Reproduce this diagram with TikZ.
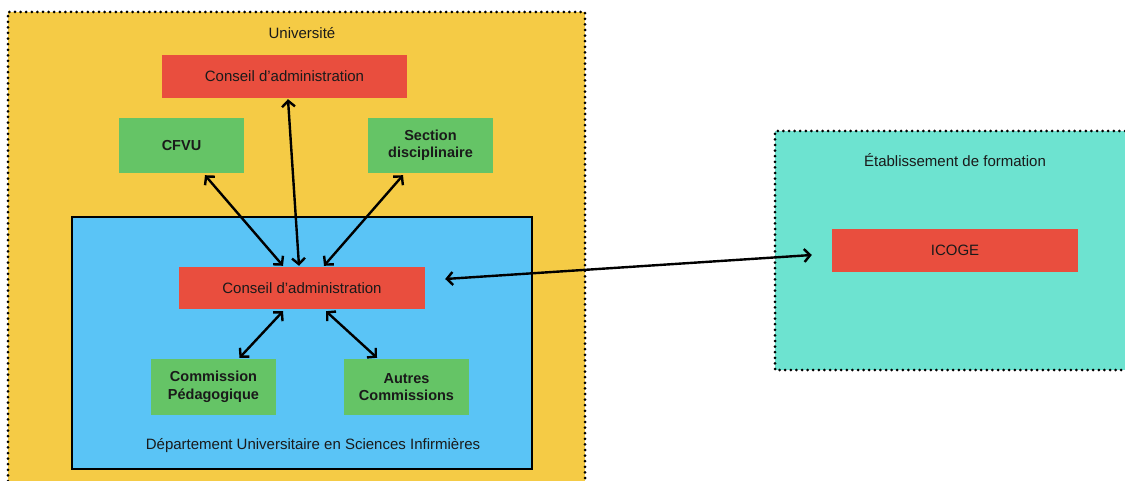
\documentclass[tikz,border=0pt]{standalone}
\usepackage{fontspec}
\setmainfont{Liberation Sans}
\usetikzlibrary{arrows.meta}
\definecolor{univyellow}{HTML}{F5CB45}
\definecolor{deptblue}{HTML}{5AC4F6}
\definecolor{boardred}{HTML}{E94E3E}
\definecolor{commgreen}{HTML}{65C466}
\definecolor{schoolteal}{HTML}{6DE3D0}
\definecolor{ink}{HTML}{1A1A1A}
\tikzset{
  txt/.style={font=\fontsize{15}{17}\selectfont, text=ink, inner sep=0pt},
  redbox/.style={txt, fill=boardred, minimum height=43pt, minimum width=246pt},
  greenbox/.style={txt, fill=commgreen, minimum width=125pt, minimum height=55pt,
    align=center, font=\fontsize{14.5}{17.5}\selectfont\bfseries},
  dotborder/.style={line width=3pt, line cap=round, dash pattern=on 0pt off 5.6pt},
  link/.style={line width=2.4pt, black,
    {Straight Barb[length=6pt,width=13pt]}-{Straight Barb[length=6pt,width=13pt]}},
}
\begin{document}
\begin{tikzpicture}[x=1pt,y=-1pt]
\useasboundingbox (0,0) rectangle (1125,481);
\fill[white] (0,0) rectangle (1125,481);

% University frame
\fill[univyellow] (8,12) rectangle (585,481);
\draw[dotborder] (8,481) -- (8,12) -- (585,12) -- (585,481);
\node[txt] (univ) at (302,33) {Université};

% Training institution frame
\fill[schoolteal] (775,131) rectangle (1125,370);
\draw[dotborder] (1125,131) -- (775,131) -- (775,370) -- (1125,370);
\node[txt] (etab) at (955,160) {Établissement de formation};

% University bodies
\node[redbox, minimum width=245pt] (ca1) at (284.5,76.5) {Conseil d’administration};
\node[greenbox] (cfvu) at (181.5,145.5) {CFVU};
\node[greenbox] (sd) at (430.5,145.5) {Section\\disciplinaire};

% Department frame
\node[draw=black, line width=1.4pt, fill=deptblue, minimum width=460pt,
  minimum height=252pt, inner sep=0pt] (dept) at (302,343) {};
\node[txt] (deptlbl) at (313,446) {Département Universitaire en Sciences Infirmières};

% Department bodies
\node[redbox, minimum height=42pt] (ca2) at (302,288) {Conseil d’administration};
\node[greenbox, minimum height=56pt] (cp) at (213.5,387) {Commission\\Pédagogique};
\node[greenbox, minimum height=56pt] (ac) at (406.5,387) {Autres\\Commissions};

% Training institution body
\node[redbox] (icoge) at (955,250.5) {ICOGE};

% Connectors
\draw[link] ([xshift=23.5pt,yshift=-2pt]cfvu.south) -- ([xshift=-19pt,yshift=1pt]ca2.north);
\draw[link] ([xshift=3.5pt,yshift=-1pt]ca1.south) -- ([xshift=-3pt,yshift=1pt]ca2.north);
\draw[link] ([xshift=-27.5pt,yshift=-2pt]sd.south) -- ([xshift=22pt,yshift=1pt]ca2.north);
\draw[link] ([xshift=-19pt,yshift=-2pt]ca2.south) -- ([xshift=26pt,yshift=1pt]cp.north);
\draw[link] ([xshift=24pt,yshift=-2pt]ca2.south) -- ([xshift=-29.5pt,yshift=1pt]ac.north);
\draw[link] ([xshift=20pt,yshift=9pt]ca2.east) -- ([xshift=-20pt,yshift=-4.5pt]icoge.west);
\end{tikzpicture}
\end{document}
